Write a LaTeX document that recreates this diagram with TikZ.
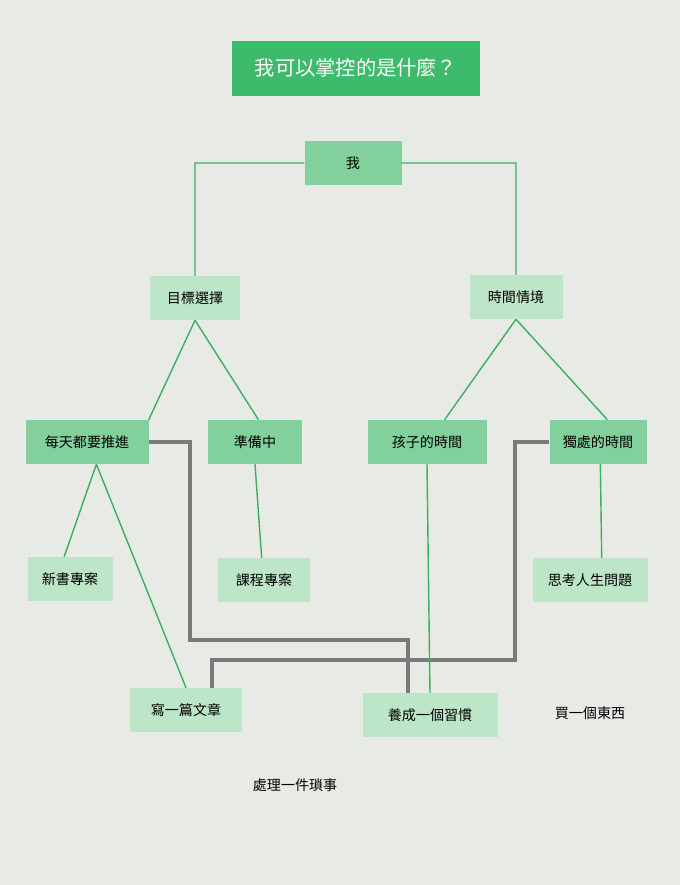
\documentclass[tikz,border=0pt]{standalone}
\usepackage{fontspec}
\setmainfont{Noto Sans CJK TC}
\usetikzlibrary{positioning}
\definecolor{titlegreen}{HTML}{3DBA6B}
\definecolor{midgreen}{HTML}{82D19C}
\definecolor{lightgreen}{HTML}{BDE5C8}
\definecolor{paper}{HTML}{E8EAE5}
\definecolor{linkgray}{HTML}{7A7A7A}
\definecolor{linkgreen}{HTML}{3DAF63}

\begin{document}
\begin{tikzpicture}[%
    x=0.03cm,
    y=-0.03cm,
    font=\large,
    titlebox/.style={%
      fill=titlegreen,
      text=white,
      font=\LARGE,
      minimum width=248*0.03cm,
      minimum height=55*0.03cm
    },
    midbox/.style={%
      fill=midgreen,
      minimum height=44*0.03cm
    },
    lightbox/.style={%
      fill=lightgreen,
      minimum height=44*0.03cm
    },
    green link/.style={draw=linkgreen, line width=1.2pt},
    gray link/.style={draw=linkgray, line width=2.6pt}
  ]
    \fill[paper] (0,0) rectangle (680,885);

    \coordinate (gl) at (190,442);
    \coordinate (gr) at (515,442);
    \coordinate (gl2) at (408,640);
    \coordinate (gr2) at (212,660);

    \node[titlebox] (title) at (356,68) {我可以掌控的是什麼？};
    \node[midbox, minimum width=97*0.03cm] (me) at (353,163) {我};
    \node[lightbox, minimum width=90*0.03cm] (goal) at (195,298) {目標選擇};
    \node[lightbox, minimum width=93*0.03cm] (time) at (516,297) {時間情境};
    \node[midbox, minimum width=123*0.03cm] (daily) at (87,442) {每天都要推進};
    \node[midbox, minimum width=94*0.03cm] (prep) at (255,442) {準備中};
    \node[midbox, minimum width=119*0.03cm] (kids) at (427,442) {孩子的時間};
    \node[midbox, minimum width=97*0.03cm] (alone) at (598,442) {獨處的時間};
    \node[lightbox, minimum width=85*0.03cm] (book) at (70,579) {新書專案};
    \node[lightbox, minimum width=92*0.03cm] (course) at (264,580) {課程專案};
    \node[lightbox, minimum width=115*0.03cm] (think) at (590,580) {思考人生問題};
    \node[lightbox, minimum width=112*0.03cm] (write) at (186,710) {寫一篇文章};
    \node[lightbox, minimum width=135*0.03cm] (habit) at (430,715) {養成一個習慣};
    \node (buy) at (590,713) {買一個東西};
    \node (chore) at (295,785) {處理一件瑣事};

    \path[green link] (me.west) -| (goal.north)
          (me.east) -| (time.north)
          (goal.south) -- (daily.north east)
          (goal.south) -- ([xshift=3]prep.north)
          (time.south) -- ([xshift=15]kids.north)
          (time.south) -- ([xshift=8]alone.north)
          ([xshift=8]daily.south) -- ([xshift=-5]book.north)
          ([xshift=8]daily.south) -- (write.north)
          (prep.south) -- ([xshift=-2]course.north)
          ([xshift=2]alone.south) -- ([xshift=10]think.north);

    \path[gray link] (daily.east) -- (gl) |- (gl2) -- (gl2 |- habit.north)
          (alone.west) -- (gr) |- (gr2) -- (gr2 |- write.north);

    \draw[green link] (kids.south) -- (habit.north);
\end{tikzpicture}
\end{document}
